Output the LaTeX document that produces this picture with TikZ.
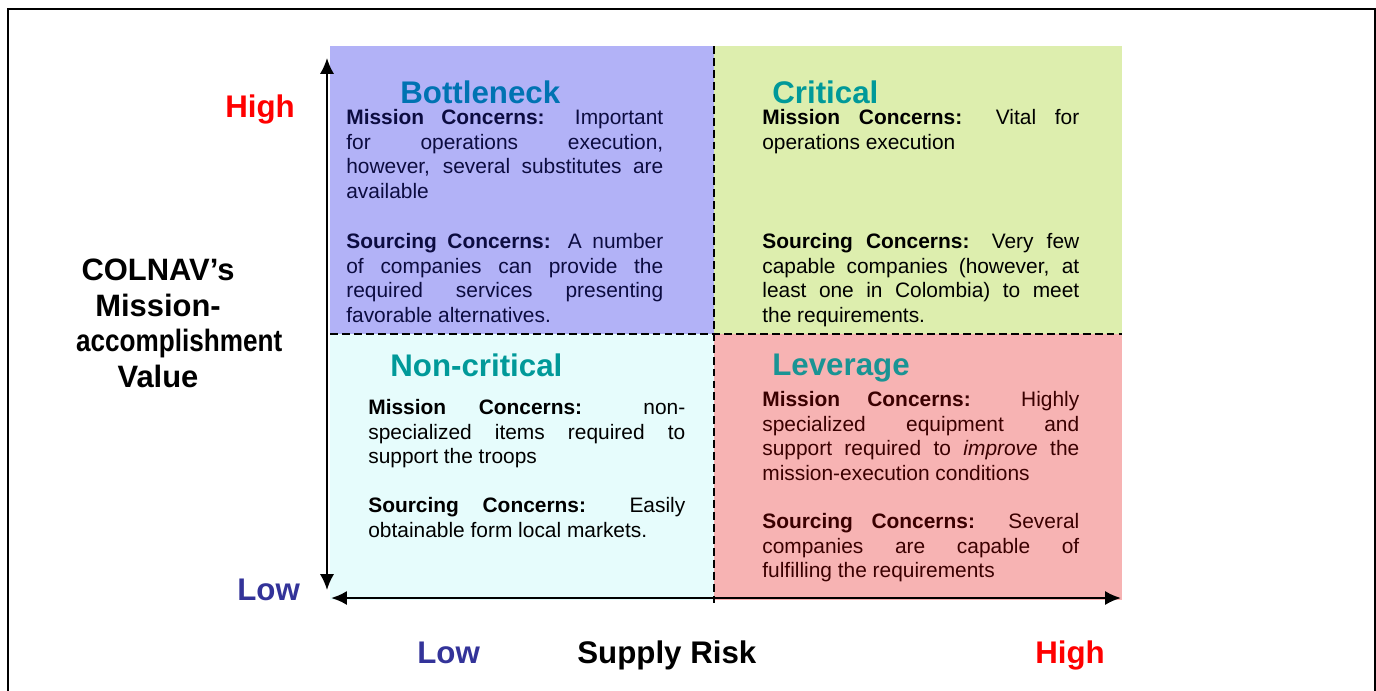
\documentclass[tikz,border=0pt]{standalone}
\usepackage{fontspec}
\setmainfont{Liberation Sans}
\usetikzlibrary{arrows.meta}

\definecolor{qblue}{HTML}{B2B2F7}
\definecolor{qgreen}{HTML}{DDEEAE}
\definecolor{qcyan}{HTML}{E6FCFC}
\definecolor{qred}{HTML}{F7B3B3}
\definecolor{teal}{HTML}{009999}
\definecolor{lowblue}{HTML}{333399}
\definecolor{navytext}{HTML}{0C0C40}
\definecolor{redtext}{HTML}{3A0000}

\begin{document}
\begin{tikzpicture}[
    x=0.02cm, y=-0.02cm,
    %framed,
    quadtitle/.style={anchor=base west, inner sep=0pt, text=teal, font=\fontsize{17.8}{20}\selectfont\bfseries},
    concern/.style={anchor=north west, inner sep=0pt, text width=6.34cm, align=justify, font=\fontsize{11.9}{13.95}\selectfont},
    axislabel/.style={anchor=base west, inner sep=0pt, font=\fontsize{17.8}{20}\selectfont\bfseries},
    divider/.style={line width=0.75pt, dash pattern=on 4.5pt off 2.3pt},
    axis/.style={<->, >={Latex[length=9pt,width=8pt]}}
    ]
    \useasboundingbox (0,0) rectangle (1376,690);
    \clip (0,0) rectangle (1376,690);
\draw[line width=1.2pt] (8,9) rectangle (1375,720);

% quadrants
\fill[qblue] (330,46) rectangle (714,334);
\fill[qgreen] (714,46) rectangle (1122,334);
\fill[qcyan] (330,334) rectangle (714,600);
\fill[qred] (714,334) rectangle (1122,600);
\draw[divider] (714,46) -- (714,604);
\draw[divider] (330,334) -- (1122,334);

% axes
\coordinate (vtop) at (327,58);
\coordinate (vbot) at (327,590);
\coordinate (hleft) at (331,598);
\coordinate (hright) at (1121,598);
\draw[axis, line width=1pt] (vtop) -- (vbot);
\draw[axis, line width=1.4pt] (hleft) -- (hright);

% axis labels
\node[axislabel, text=red] (vhigh) at (225,117) {High};
\node[axislabel, text=lowblue] (vlow) at (237,600) {Low};
\node[inner sep=0pt, text width=3.28cm, align=center, font=\fontsize{17.6}{20.2}\selectfont\bfseries] (value) at (158,323.5) {COLNAV’s\\Mission-\\\mbox{\scalebox{0.845}[1]{accomplishment}}\\Value};
\node[axislabel, text=lowblue] (hlow) at (417,663) {Low};
\node[axislabel] (risk) at (577,663) {Supply Risk};
\node[axislabel, text=red] (hhigh) at (1035,663) {High};

% Bottleneck
\node[quadtitle, text=teal!75!blue] (bottleneck) at (400,103.5) {Bottleneck};
\node[concern, text=navytext] (bmission) at (346,109) {\textbf{Mission Concerns:} Important\linebreak for operations execution,\linebreak however, several substitutes are\linebreak available};
\node[concern, text=navytext] (bsourcing) at (346,233) {\textbf{Sourcing Concerns:} A number\linebreak of companies can provide the\linebreak required services presenting\linebreak favorable alternatives.};

% Critical
\node[quadtitle] (critical) at (772,103.5) {Critical};
\node[concern] (cmission) at (762,109) {\textbf{Mission Concerns:} Vital for\linebreak operations execution};
\node[concern] (csourcing) at (762,233) {\textbf{Sourcing Concerns:} Very few\linebreak capable companies (however, at\linebreak least one in Colombia) to meet\linebreak the requirements.};

% Non-critical
\node[quadtitle] (noncritical) at (390,376) {Non-critical};
\node[concern] (nmission) at (368,399) {\textbf{Mission Concerns:} non-\linebreak specialized items required to\linebreak support the troops};
\node[concern] (nsourcing) at (368,497) {\textbf{Sourcing Concerns:} Easily\linebreak obtainable form local markets.};

% Leverage
\node[quadtitle, text=teal!80!gray] (leverage) at (772,375) {Leverage};
\node[concern, text=redtext] (lmission) at (762,391) {\textbf{Mission Concerns:} Highly\linebreak specialized equipment and\linebreak support required to \textit{improve} the\linebreak mission-execution conditions};
\node[concern, text=redtext] (lsourcing) at (762,513) {\textbf{Sourcing Concerns:} Several\linebreak companies are capable of\linebreak fulfilling the requirements};
\end{tikzpicture}
\end{document}
